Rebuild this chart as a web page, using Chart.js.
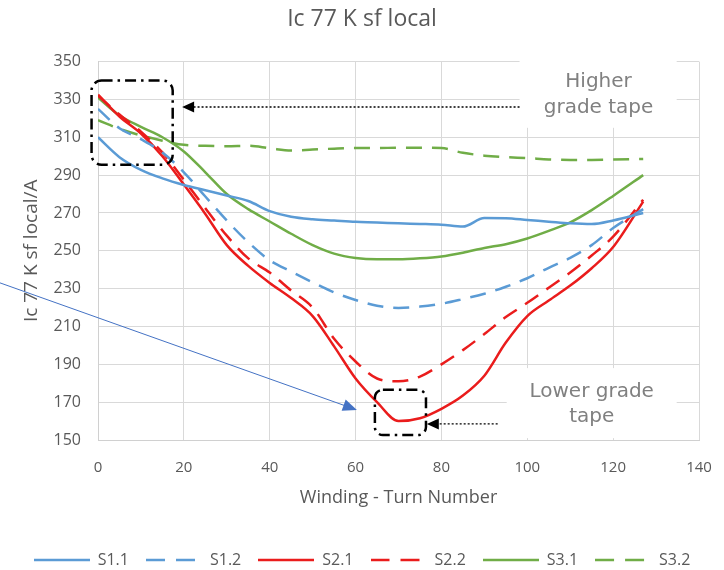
<!DOCTYPE html>
<html>
<head>
<meta charset="utf-8">
<script src="https://cdn.jsdelivr.net/npm/chart.js@4.4.1/dist/chart.umd.min.js"></script>
<style>
  html, body { margin: 0; padding: 0; background: #fff; }
  #wrap { width: 724px; height: 570px; }
</style>
</head>
<body>
<div id="wrap"><canvas id="icChart" width="724" height="570"></canvas></div>
<script>
// turn numbers the curves were read at
const turns = [0, 5, 10, 15, 20, 25, 30, 35, 40, 45, 50, 55, 60, 65, 70, 75, 80, 85, 90, 95, 100, 105, 110, 115, 120, 127];

// Ic 77 K sf local (A)
const s11 = [310, 299.5, 292.8, 288.3, 284.8, 282, 279.2, 276.3, 271, 268, 266.7, 266, 265.3, 265, 264.5, 264.2, 263.8, 262.8, 267.3, 267.2, 266.3, 265.4, 264.5, 264.1, 266, 270];
const s12 = [325, 314.8, 309, 302, 291.5, 278.7, 266, 254.5, 245, 239, 233.3, 228, 224, 221, 219.8, 220.5, 222, 224.5, 227.3, 231, 235.5, 241, 246.3, 253, 262, 272];
const s21 = [332.5, 321, 312, 300, 285, 269.5, 253, 242, 233, 225, 215.5, 199.5, 182.5, 170, 160, 161.5, 166.5, 173.5, 184, 201.5, 215.5, 223.7, 231.6, 240.8, 252, 276];
const s22 = [332, 322, 313, 302, 287.5, 272.5, 258, 246, 238.5, 229, 220, 203.5, 191.5, 182.5, 181, 183.5, 190, 197.5, 206, 215, 222.5, 230.5, 238.5, 247.5, 257.5, 277];
const s31 = [331, 321.5, 315.5, 310, 302.5, 291.5, 280, 272, 265.5, 259, 253, 248.5, 246.2, 245.5, 245.5, 246, 247, 249, 251.5, 253.5, 256.5, 260.5, 265, 271.5, 279, 290];
const s32 = [319, 314.5, 311, 308.2, 306, 305.5, 305.3, 305.5, 304.2, 303, 303.5, 304, 304.3, 304.3, 304.5, 304.5, 304.3, 301.8, 300.3, 299.5, 299, 298.3, 298, 298, 298.2, 298.5];

const xTicks = [0, 20, 40, 60, 80, 100, 120, 140];
const yTicks = [150, 170, 190, 210, 230, 250, 270, 290, 310, 330, 350];

const BLUE = '#5b9bd5', RED = '#ea1c1c', GREEN = '#70ad47';
const DASH = [16, 10];
const GREY = '#595959';

function pts(vals) {
  return turns.map((t, i) => ({ x: t, y: vals[i] }));
}

// small line sample used as the legend symbol (keeps the dashes)
function legendLine(color, dashed) {
  const c = document.createElement('canvas');
  c.width = 56;
  c.height = 4;
  const g = c.getContext('2d');
  g.strokeStyle = color;
  g.lineWidth = 2.5;
  g.setLineDash(dashed ? [19, 11] : []);
  g.beginPath();
  g.moveTo(0, 2);
  g.lineTo(56, 2);
  g.stroke();
  return c;
}

function series(label, vals, color, dashed) {
  return {
    label: label,
    data: pts(vals),
    borderColor: color,
    backgroundColor: color,
    borderWidth: 2.5,
    borderDash: dashed ? DASH : [],
    pointRadius: 0,
    pointHoverRadius: 0,
    pointStyle: legendLine(color, dashed),
    cubicInterpolationMode: 'monotone',
    fill: false
  };
}

// helpers for the hand-drawn notes
function arrowHead(ctx, x1, y1, x2, y2, len, half, color) {
  const a = Math.atan2(y2 - y1, x2 - x1);
  ctx.save();
  ctx.fillStyle = color;
  ctx.setLineDash([]);
  ctx.beginPath();
  ctx.moveTo(x2, y2);
  ctx.lineTo(x2 - len * Math.cos(a) + half * Math.sin(a), y2 - len * Math.sin(a) - half * Math.cos(a));
  ctx.lineTo(x2 - len * Math.cos(a) - half * Math.sin(a), y2 - len * Math.sin(a) + half * Math.cos(a));
  ctx.closePath();
  ctx.fill();
  ctx.restore();
}

function roundBox(ctx, x1, y1, x2, y2, r) {
  ctx.beginPath();
  ctx.moveTo(x1 + r, y1);
  ctx.lineTo(x2 - r, y1);
  ctx.arcTo(x2, y1, x2, y1 + r, r);
  ctx.lineTo(x2, y2 - r);
  ctx.arcTo(x2, y2, x2 - r, y2, r);
  ctx.lineTo(x1 + r, y2);
  ctx.arcTo(x1, y2, x1, y2 - r, r);
  ctx.lineTo(x1, y1 + r);
  ctx.arcTo(x1, y1, x1 + r, y1, r);
  ctx.closePath();
}

const notes = {
  id: 'notes',
  beforeDatasetsDraw(chart) {
    const ctx = chart.ctx, sx = chart.scales.x, sy = chart.scales.y;
    const X = v => sx.getPixelForValue(v), Y = v => sy.getPixelForValue(v);
    ctx.save();
    // white label patches over the grid
    ctx.fillStyle = '#ffffff';
    ctx.fillRect(X(98.2), Y(352.6), X(134.8) - X(98.2), Y(315) - Y(352.6));
    ctx.fillRect(X(95.2), Y(188), X(134.8) - X(95.2), Y(151) - Y(188));
    ctx.fillStyle = '#808080';
    ctx.font = '20px "DejaVu Sans"';
    ctx.textAlign = 'center';
    ctx.textBaseline = 'middle';
    ctx.fillText('Higher', X(116.6), Y(339.4));
    ctx.fillText('grade tape', X(116.6), Y(325.7));
    ctx.fillText('Lower grade', X(115), Y(175.4));
    ctx.fillText('tape', X(115), Y(162.4));
    ctx.restore();
  },
  afterDatasetsDraw(chart) {
    const ctx = chart.ctx, sx = chart.scales.x, sy = chart.scales.y;
    const X = v => sx.getPixelForValue(v), Y = v => sy.getPixelForValue(v);
    ctx.save();
    // dash-dot boxes
    ctx.strokeStyle = '#000000';
    ctx.lineWidth = 2.5;
    ctx.setLineDash([11, 5, 2.5, 5]);
    roundBox(ctx, X(-1.5), Y(340), X(17.4), Y(295.5), 10);
    ctx.stroke();
    roundBox(ctx, X(64.5), Y(176.5), X(76.4), Y(152.6), 8);
    ctx.stroke();
    // dotted pointers
    ctx.lineWidth = 1.3;
    ctx.setLineDash([2, 2]);
    ctx.beginPath();
    ctx.moveTo(X(98.2), Y(326));
    ctx.lineTo(X(19.6) + 10, Y(326));
    ctx.moveTo(X(93.1), Y(158.5));
    ctx.lineTo(X(76.6) + 10, Y(158.5));
    ctx.stroke();
    arrowHead(ctx, X(98.2), Y(326), X(19.6), Y(326), 12, 5.5, '#000000');
    arrowHead(ctx, X(93.1), Y(158.5), X(76.6), Y(158.5), 12, 5.5, '#000000');
    ctx.restore();
  },
  afterDraw(chart) {
    const ctx = chart.ctx, sx = chart.scales.x, sy = chart.scales.y;
    const X = v => sx.getPixelForValue(v), Y = v => sy.getPixelForValue(v);
    const x1 = X(-22.9), y1 = Y(233.1), x2 = X(60.3), y2 = Y(165.9);
    const a = Math.atan2(y2 - y1, x2 - x1);
    ctx.save();
    ctx.strokeStyle = '#4472c4';
    ctx.lineWidth = 1;
    ctx.beginPath();
    ctx.moveTo(x1, y1);
    ctx.lineTo(x2 - 10 * Math.cos(a), y2 - 10 * Math.sin(a));
    ctx.stroke();
    arrowHead(ctx, x1, y1, x2, y2, 14, 6, '#4472c4');
    ctx.restore();
  }
};

const ctx = document.getElementById('icChart').getContext('2d');
const icChart = new Chart(ctx, {
  type: 'line',
  data: {
    datasets: [
      series('S1.1', s11, BLUE, false),
      series('S1.2', s12, BLUE, true),
      series('S2.1', s21, RED, false),
      series('S2.2', s22, RED, true),
      series('S3.1', s31, GREEN, false),
      series('S3.2', s32, GREEN, true)
    ]
  },
  options: {
    responsive: false,
    animation: false,
    layout: { padding: { left: 0, right: 0, top: 0, bottom: -8 } },
    plugins: {
      title: {
        display: true,
        text: 'Ic 77 K sf local',
        color: GREY,
        font: { family: 'Open Sans', size: 23, weight: 'normal' },
        padding: { top: 6, bottom: 28 }
      },
      legend: {
        position: 'bottom',
        labels: {
          usePointStyle: true,
          pointStyleWidth: 56,
          padding: 17,
          color: GREY,
          font: { family: 'Open Sans', size: 16 }
        }
      },
      tooltip: { enabled: false }
    },
    scales: {
      x: {
        type: 'linear',
        min: xTicks[0],
        max: xTicks[xTicks.length - 1],
        afterBuildTicks: s => { s.ticks = xTicks.map(v => ({ value: v })); },
        afterFit: s => { s.height = 95; s.paddingRight = 25; },
        ticks: { color: GREY, padding: 19, font: { family: 'Open Sans', size: 15 } },
        grid: { color: '#d9d9d9', drawTicks: false },
        border: { color: '#d0d0d0' },
        title: {
          display: true,
          text: 'Winding - Turn Number',
          color: GREY,
          font: { family: 'Open Sans', size: 18 },
          padding: { top: 0, bottom: 26 }
        }
      },
      y: {
        min: yTicks[0],
        max: yTicks[yTicks.length - 1],
        afterBuildTicks: s => { s.ticks = yTicks.map(v => ({ value: v })); },
        afterFit: s => { s.width = 98; },
        ticks: { color: GREY, padding: 17, font: { family: 'Open Sans', size: 16 } },
        grid: { color: '#d9d9d9', drawTicks: false },
        border: { color: '#d0d0d0' },
        title: {
          display: true,
          text: 'Ic 77 K sf local/A',
          color: GREY,
          font: { family: 'Open Sans', size: 19 },
          padding: { top: 20, bottom: 0 }
        }
      }
    }
  },
  plugins: [notes]
});
</script>
</body>
</html>
